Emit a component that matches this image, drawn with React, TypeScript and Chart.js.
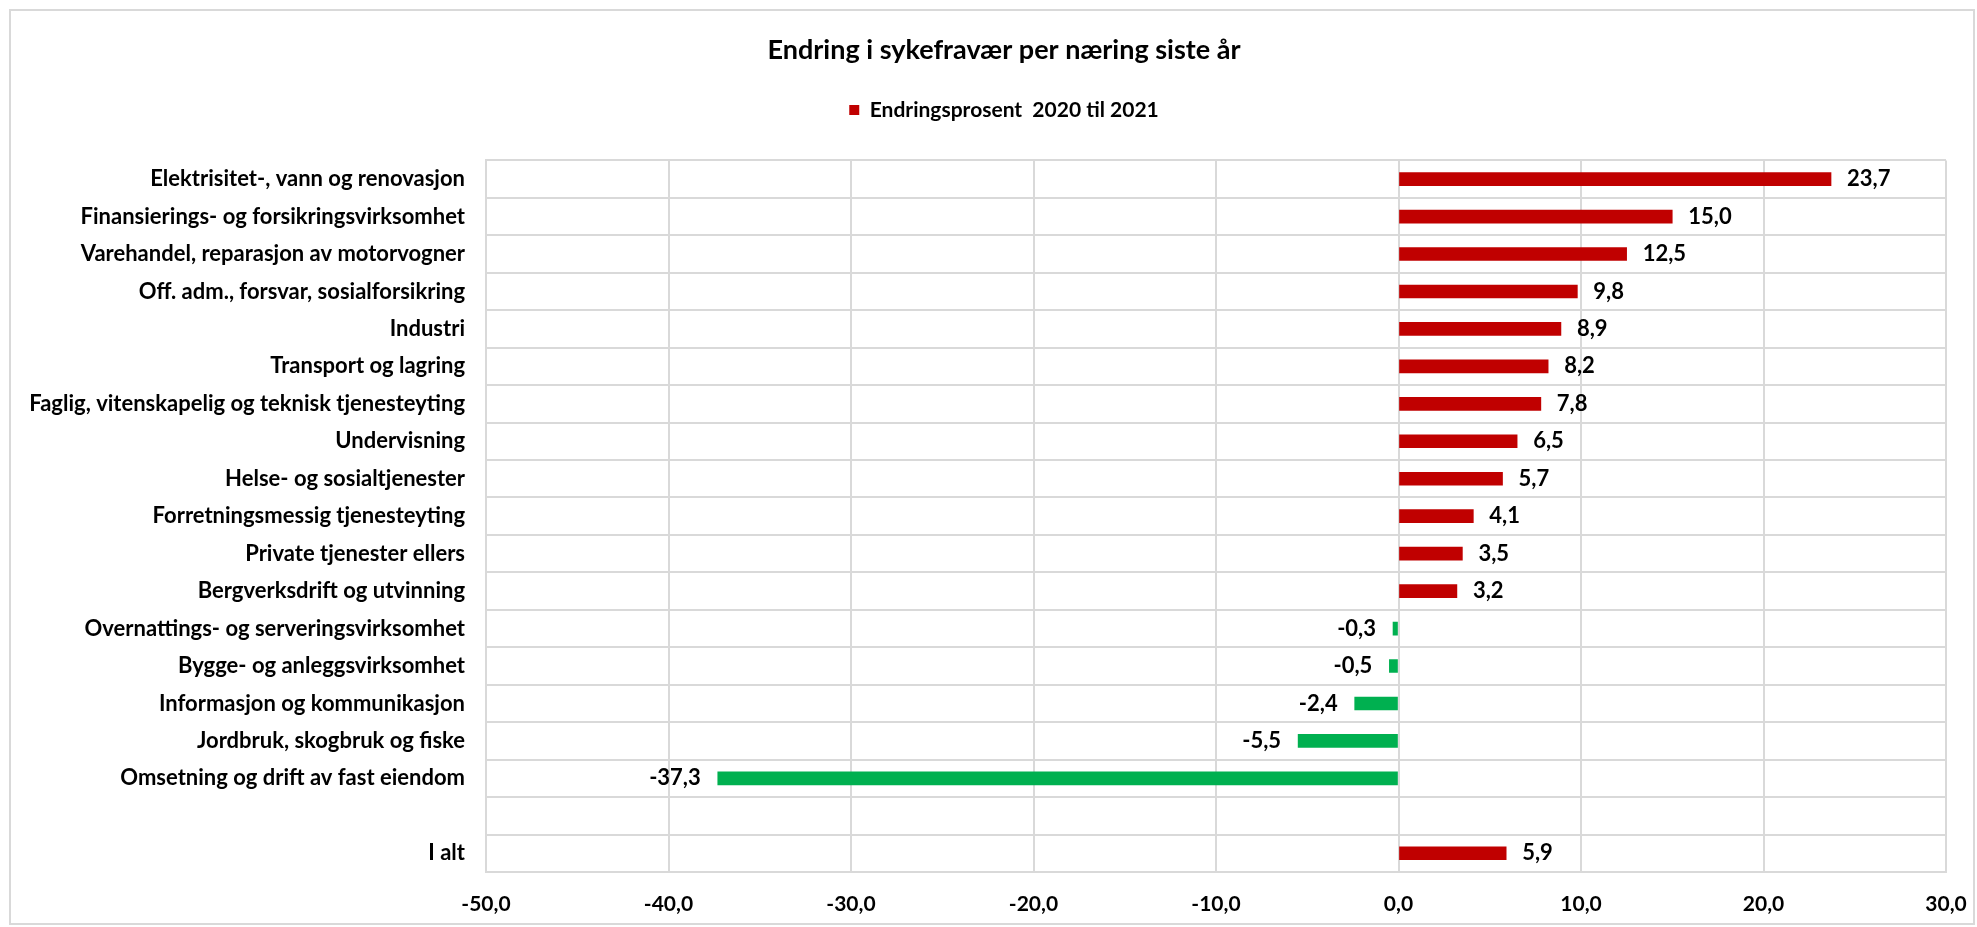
import { useEffect, useRef } from 'react';
import { Chart, registerables } from 'chart.js';

Chart.register(...registerables);

const chartTitle = 'Endring i sykefravær per næring siste år';
const seriesLabel = 'Endringsprosent  2020 til 2021';

const categories = [
  'Elektrisitet-, vann og renovasjon',
  'Finansierings- og forsikringsvirksomhet',
  'Varehandel, reparasjon av motorvogner',
  'Off. adm., forsvar, sosialforsikring',
  'Industri',
  'Transport og lagring',
  'Faglig, vitenskapelig og teknisk tjenesteyting',
  'Undervisning',
  'Helse- og sosialtjenester',
  'Forretningsmessig tjenesteyting',
  'Private tjenester ellers',
  'Bergverksdrift og utvinning',
  'Overnattings- og serveringsvirksomhet',
  'Bygge- og anleggsvirksomhet',
  'Informasjon og kommunikasjon',
  'Jordbruk, skogbruk og fiske',
  'Omsetning og drift av fast eiendom',
  '',
  'I alt',
];

const values: (number | null)[] = [
  23.7, 15.0, 12.5, 9.8, 8.9, 8.2, 7.8, 6.5, 5.7, 4.1, 3.5, 3.2,
  -0.3, -0.5, -2.4, -5.5, -37.3, null, 5.9,
];

const xMin = -50;
const xMax = 30;
const xStep = 10;

const POS = '#C00000';
const NEG = '#00B050';
const GRID = '#d9d9d9';
const FONT = 'Lato, "Open Sans", "DejaVu Sans", sans-serif';

const fmt = (v: number) => v.toFixed(1).replace('.', ',');

export default function App() {
  const ref = useRef<HTMLCanvasElement>(null);

  useEffect(() => {
    document.body.style.margin = '0';
    const canvas = ref.current!;

    const legendSpacer = {
      id: 'legendSpacer',
      beforeInit(chart: any) {
        const legend = chart.legend;
        if (!legend) return;
        const orig = legend.fit;
        legend.fit = function () {
          orig.call(this);
          this.height += 30;
        };
      },
    };

    const headerShift = {
      id: 'headerShift',
      afterLayout(chart: any) {
        for (const b of [chart.titleBlock, chart.legend]) {
          if (b) {
            b.left += 31;
            b.right += 31;
          }
        }
      },
    };

    const barLabels = {
      id: 'barLabels',
      afterDatasetsDraw(chart: any) {
        const ctx = chart.ctx;
        const meta = chart.getDatasetMeta(0);
        ctx.save();
        ctx.font = `bold 22px ${FONT}`;
        ctx.fillStyle = '#000';
        ctx.textBaseline = 'middle';
        meta.data.forEach((bar: any, i: number) => {
          const v = values[i];
          if (v == null) return;
          if (v >= 0) {
            ctx.textAlign = 'left';
            ctx.fillText(fmt(v), bar.x + 16, bar.y);
          } else {
            ctx.textAlign = 'right';
            ctx.fillText(fmt(v), bar.x - 17, bar.y);
          }
        });
        ctx.restore();
      },
    };

    const outerBorder = {
      id: 'outerBorder',
      beforeDraw(chart: any) {
        const ctx = chart.ctx;
        ctx.save();
        ctx.fillStyle = '#fff';
        ctx.fillRect(0, 0, chart.width, chart.height);
        ctx.strokeStyle = GRID;
        ctx.lineWidth = 2;
        ctx.strokeRect(10, 10, 1964, 914);
        ctx.restore();
      },
    };

    const chart = new Chart(canvas, {
      type: 'bar',
      data: {
        labels: categories,
        datasets: [
          {
            label: seriesLabel,
            data: values,
            backgroundColor: values.map((v) => (v != null && v < 0 ? NEG : POS)),
            borderWidth: 0,
            barThickness: 13,
          },
        ],
      },
      options: {
        indexAxis: 'y',
        responsive: false,
        animation: false,
        layout: { padding: { left: 0, right: 31, top: 0, bottom: 0 } },
        scales: {
          x: {
            min: xMin,
            max: xMax,
            ticks: {
              stepSize: xStep,
              callback: (v: any) => fmt(Number(v)),
              font: { family: FONT, size: 21, weight: 'bold' },
              color: '#000',
              padding: 20,
              maxRotation: 0,
            },
            grid: { color: GRID, lineWidth: 2, drawTicks: false },
            border: { color: GRID, width: 2 },
            afterFit: (s: any) => {
              s.height = 55;
              s.paddingLeft = 0;
              s.paddingRight = 0;
            },
          },
          y: {
            ticks: {
              font: { family: FONT, size: 22, weight: 'bold' },
              color: '#000',
              padding: 21,
              autoSkip: false,
            },
            grid: { color: GRID, lineWidth: 2, drawTicks: false },
            border: { color: GRID, width: 2 },
            afterFit: (s: any) => {
              s.width = 486;
            },
          },
        },
        plugins: {
          title: {
            display: true,
            text: chartTitle,
            color: '#000',
            font: { family: FONT, size: 27, weight: 'bold' },
            padding: { top: 34, bottom: 23 },
          },
          legend: {
            display: true,
            labels: {
              boxWidth: 10,
              boxHeight: 10,
              padding: 10,
              color: '#000',
              font: { family: FONT, size: 21, weight: 'bold' },
              generateLabels: () => [
                {
                  text: seriesLabel,
                  fillStyle: POS,
                  strokeStyle: POS,
                  lineWidth: 0,
                  hidden: false,
                  datasetIndex: 0,
                },
              ],
            },
          },
          tooltip: { enabled: false },
        },
      } as any,
      plugins: [legendSpacer, headerShift, barLabels, outerBorder],
    });

    return () => chart.destroy();
  }, []);

  return (
    <div style={{ width: 1977, height: 927 }}>
      <canvas ref={ref} width={1977} height={927} style={{ display: 'block' }} />
    </div>
  );
}
